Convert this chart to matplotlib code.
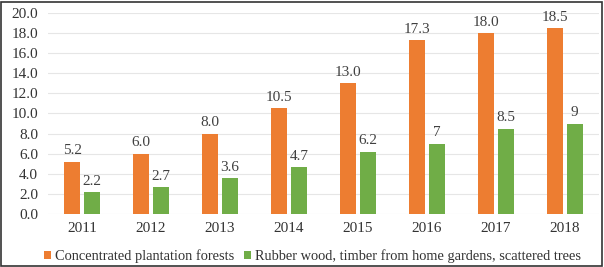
import numpy as np
import matplotlib.pyplot as plt
from matplotlib.patches import Rectangle

years = ['2011', '2012', '2013', '2014', '2015', '2016', '2017', '2018']
plantation = [5.2, 6.0, 8.0, 10.5, 13.0, 17.3, 18.0, 18.5]
rubber = [2.2, 2.7, 3.6, 4.7, 6.2, 7, 8.5, 9]

plt.rcParams['font.family'] = ['Liberation Serif', 'DejaVu Serif']

fig = plt.figure(figsize=(6.04, 2.67), dpi=100)
ax = fig.add_axes([0.079, 0.199, 0.913, 0.752])

x = np.arange(len(years))
w = 0.23
b1 = ax.bar(x - 0.145, plantation, w, color='#ED7D31',
            label='Concentrated plantation forests', zorder=3)
b2 = ax.bar(x + 0.145, rubber, w, color='#70AD47',
            label='Rubber wood, timber from home gardens, scattered trees', zorder=3)
ax.bar_label(b1, fmt='%.1f', padding=3, fontsize=11, color='#404040')
ax.bar_label(b2, labels=[f'{v:g}' for v in rubber], padding=3, fontsize=11, color='#404040')

ax.set_ylim(0, 20)
ax.set_xlim(-0.5, 7.5)
ax.set_yticks(np.arange(0, 20.1, 2))
ax.set_yticklabels([f'{v:.1f}' for v in np.arange(0, 20.1, 2)])
ax.set_xticks(x)
ax.set_xticklabels(years)
ax.tick_params(length=0, labelsize=11, labelcolor='#333333')
ax.tick_params(axis='y', pad=7)
ax.tick_params(axis='x', pad=6)
ax.grid(axis='y', color='#E6E6E6', linewidth=0.8, zorder=0)
for s in ax.spines.values():
    s.set_visible(False)

leg = ax.legend(loc='upper center', bbox_to_anchor=(0.48, -0.155), ncol=2, frameon=False,
                prop={'family': 'Liberation Serif', 'size': 10.4},
                handlelength=0.5, handleheight=0.5, handletextpad=0.25,
                columnspacing=0.7, borderaxespad=0, borderpad=0.3, labelcolor='#333333')

fig.patches.append(Rectangle((0.002, 0.004), 0.995, 0.99, transform=fig.transFigure,
                             fill=False, edgecolor='#333333', linewidth=1.2))

fig.savefig('out.png', dpi=100)
